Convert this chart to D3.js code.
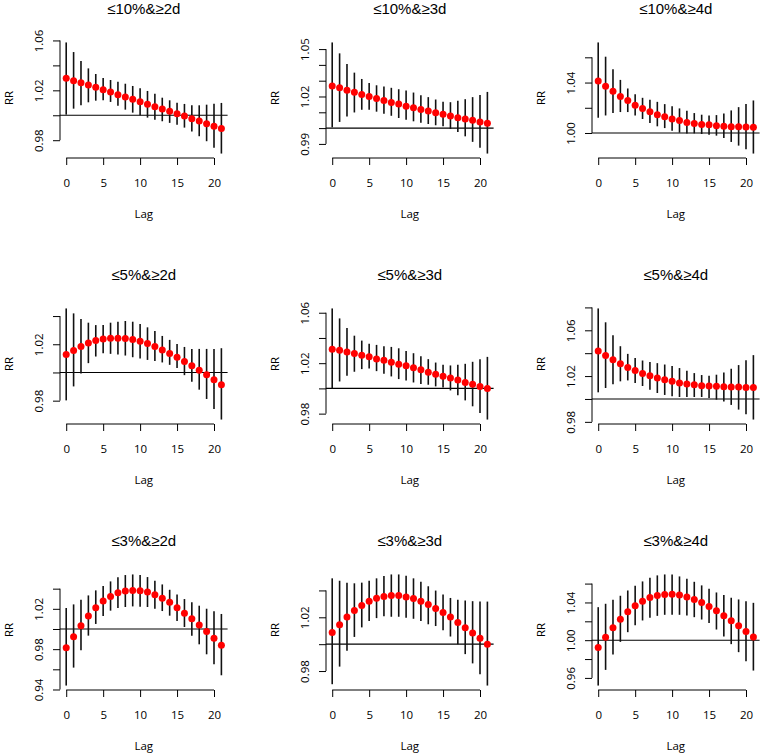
<!DOCTYPE html>
<html><head><meta charset="utf-8">
<script src="https://cdn.jsdelivr.net/npm/d3@7"></script>
<style>
body{margin:0;background:#fff}
svg{display:block}
text{font-family:"Open Sans",sans-serif;fill:#000}
text.title{font-family:"Liberation Sans",Arial,sans-serif}
</style>
</head><body>
<svg id="chart" width="760" height="753"></svg>
<script>
const lags = [0,1,2,3,4,5,6,7,8,9,10,11,12,13,14,15,16,17,18,19,20,21];
const xTicks = [0,5,10,15,20];
const titles = ["≤10%&≥2d","≤10%&≥3d","≤10%&≥4d","≤5%&≥2d","≤5%&≥3d","≤5%&≥4d","≤3%&≥2d","≤3%&≥3d","≤3%&≥4d"];

const est10_2 = [1.0296,1.0277,1.0261,1.0243,1.0224,1.0205,1.0187,1.0165,1.0147,1.0128,1.0109,1.0088,1.0069,1.0051,1.0032,1.0013,0.9995,0.9973,0.9955,0.9933,0.9912,0.9893];
const low10_2 = [1.0005,1.0053,1.0080,1.0104,1.0117,1.0120,1.0107,1.0077,1.0045,1.0021,1.0000,0.9981,0.9965,0.9952,0.9939,0.9923,0.9901,0.9869,0.9832,0.9792,0.9739,0.9693];
const high10_2 = [1.0584,1.0507,1.0435,1.0376,1.0331,1.0299,1.0283,1.0269,1.0253,1.0235,1.0216,1.0195,1.0173,1.0141,1.0120,1.0101,1.0091,1.0080,1.0080,1.0085,1.0093,1.0099];

const est10_3 = [1.0267,1.0255,1.0240,1.0227,1.0213,1.0200,1.0187,1.0175,1.0162,1.0152,1.0139,1.0129,1.0118,1.0108,1.0097,1.0087,1.0076,1.0066,1.0057,1.0049,1.0039,1.0030];
const low10_3 = [1.0005,1.0039,1.0074,1.0099,1.0116,1.0116,1.0104,1.0091,1.0078,1.0064,1.0053,1.0043,1.0034,1.0026,1.0018,1.0011,0.9995,0.9976,0.9948,0.9913,0.9875,0.9839];
const high10_3 = [1.0542,1.0473,1.0405,1.0351,1.0311,1.0286,1.0271,1.0263,1.0255,1.0246,1.0238,1.0225,1.0208,1.0196,1.0181,1.0166,1.0164,1.0173,1.0183,1.0196,1.0210,1.0229];

const est10_4 = [1.0413,1.0371,1.0332,1.0289,1.0258,1.0221,1.0195,1.0168,1.0145,1.0129,1.0111,1.0100,1.0084,1.0076,1.0068,1.0066,1.0058,1.0053,1.0050,1.0050,1.0047,1.0045];
const low10_4 = [1.0121,1.0139,1.0158,1.0166,1.0166,1.0139,1.0111,1.0079,1.0053,1.0039,1.0018,1.0003,0.9997,0.9997,0.9992,0.9987,0.9979,0.9961,0.9929,0.9900,0.9871,0.9837];
const high10_4 = [1.0718,1.0605,1.0505,1.0421,1.0353,1.0308,1.0279,1.0263,1.0247,1.0229,1.0213,1.0195,1.0176,1.0158,1.0145,1.0139,1.0142,1.0155,1.0179,1.0205,1.0229,1.0258];

const est5_2 = [1.0127,1.0155,1.0184,1.0209,1.0226,1.0238,1.0242,1.0242,1.0240,1.0233,1.0221,1.0205,1.0184,1.0160,1.0134,1.0108,1.0078,1.0047,1.0016,0.9984,0.9948,0.9913];
const low5_2 = [0.9802,0.9901,0.9993,1.0066,1.0113,1.0136,1.0132,1.0127,1.0120,1.0108,1.0099,1.0089,1.0082,1.0071,1.0054,1.0031,0.9981,0.9934,0.9878,0.9812,0.9741,0.9666];
const high5_2 = [1.0454,1.0419,1.0379,1.0353,1.0336,1.0336,1.0353,1.0360,1.0365,1.0360,1.0344,1.0320,1.0294,1.0259,1.0231,1.0202,1.0181,1.0167,1.0167,1.0167,1.0167,1.0172];

const est5_3 = [1.0311,1.0303,1.0289,1.0276,1.0263,1.0250,1.0234,1.0224,1.0208,1.0192,1.0179,1.0163,1.0147,1.0129,1.0113,1.0097,1.0082,1.0066,1.0047,1.0032,1.0016,1.0000];
const low5_3 = [1.0000,1.0055,1.0100,1.0132,1.0153,1.0158,1.0137,1.0116,1.0095,1.0074,1.0063,1.0047,1.0034,1.0029,1.0016,1.0008,0.9984,0.9945,0.9905,0.9858,0.9805,0.9753];
const high5_3 = [1.0634,1.0555,1.0479,1.0418,1.0379,1.0355,1.0345,1.0334,1.0329,1.0318,1.0297,1.0279,1.0255,1.0232,1.0205,1.0187,1.0182,1.0187,1.0195,1.0211,1.0232,1.0250];

const est5_4 = [1.0420,1.0380,1.0342,1.0307,1.0275,1.0249,1.0223,1.0203,1.0183,1.0168,1.0154,1.0139,1.0130,1.0125,1.0116,1.0113,1.0110,1.0107,1.0104,1.0104,1.0101,1.0101];
const low5_4 = [1.0058,1.0096,1.0128,1.0154,1.0162,1.0139,1.0113,1.0081,1.0052,1.0035,1.0023,1.0017,1.0017,1.0017,1.0017,1.0009,0.9994,0.9977,0.9948,0.9907,0.9867,0.9820];
const high5_4 = [1.0791,1.0670,1.0557,1.0461,1.0394,1.0357,1.0336,1.0322,1.0313,1.0301,1.0287,1.0270,1.0246,1.0226,1.0209,1.0203,1.0212,1.0232,1.0264,1.0296,1.0339,1.0383];

const est3_2 = [0.9815,0.9924,1.0033,1.0129,1.0211,1.0277,1.0323,1.0360,1.0376,1.0383,1.0380,1.0366,1.0340,1.0304,1.0264,1.0211,1.0155,1.0102,1.0040,0.9974,0.9908,0.9838];
const low3_2 = [0.9439,0.9617,0.9789,0.9934,1.0050,1.0129,1.0182,1.0208,1.0218,1.0224,1.0221,1.0218,1.0201,1.0178,1.0132,1.0079,1.0020,0.9934,0.9848,0.9749,0.9650,0.9541];
const high3_2 = [1.0208,1.0244,1.0290,1.0333,1.0383,1.0426,1.0472,1.0512,1.0535,1.0541,1.0535,1.0515,1.0479,1.0442,1.0389,1.0343,1.0297,1.0264,1.0231,1.0201,1.0175,1.0149];

const est3_3 = [1.0086,1.0145,1.0202,1.0251,1.0288,1.0320,1.0342,1.0354,1.0362,1.0362,1.0352,1.0340,1.0320,1.0295,1.0266,1.0236,1.0202,1.0162,1.0123,1.0084,1.0044,1.0000];
const low3_3 = [0.9702,0.9833,0.9951,1.0054,1.0125,1.0172,1.0194,1.0207,1.0204,1.0204,1.0197,1.0189,1.0172,1.0148,1.0135,1.0103,1.0057,1.0000,0.9926,0.9857,0.9776,0.9692];
const high3_3 = [1.0490,1.0472,1.0458,1.0453,1.0458,1.0472,1.0490,1.0507,1.0519,1.0519,1.0509,1.0490,1.0465,1.0431,1.0399,1.0369,1.0344,1.0330,1.0325,1.0320,1.0317,1.0317];

const est3_4 = [0.9922,1.0032,1.0131,1.0223,1.0301,1.0365,1.0414,1.0453,1.0474,1.0485,1.0488,1.0478,1.0457,1.0432,1.0400,1.0358,1.0312,1.0258,1.0205,1.0152,1.0092,1.0035];
const low3_4 = [0.9519,0.9685,0.9848,0.9982,1.0085,1.0159,1.0209,1.0237,1.0258,1.0269,1.0269,1.0269,1.0262,1.0244,1.0219,1.0181,1.0113,1.0039,0.9958,0.9873,0.9777,0.9678];
const high3_4 = [1.0350,1.0386,1.0428,1.0471,1.0527,1.0577,1.0623,1.0662,1.0687,1.0697,1.0697,1.0676,1.0651,1.0619,1.0581,1.0545,1.0506,1.0478,1.0450,1.0432,1.0414,1.0396];

const yTicks = [
  [0.98,1.00,1.02,1.04,1.06],
  [0.99,1.00,1.01,1.02,1.03,1.04,1.05],
  [1.00,1.02,1.04,1.06],
  [0.98,1.00,1.02,1.04],
  [0.98,1.00,1.02,1.04,1.06],
  [0.98,1.00,1.02,1.04,1.06,1.08],
  [0.94,0.96,0.98,1.00,1.02,1.04],
  [0.98,1.00,1.02,1.04],
  [0.96,0.98,1.00,1.02,1.04,1.06]
];
const yLabels = [
  [0.98,1.02,1.06],
  [0.99,1.02,1.05],
  [1.00,1.04],
  [0.98,1.02],
  [0.98,1.02,1.06],
  [0.98,1.02,1.06],
  [0.94,0.98,1.02],
  [0.98,1.02],
  [0.96,1.00,1.04]
];

const estimates = [est10_2,est10_3,est10_4,est5_2,est5_3,est5_4,est3_2,est3_3,est3_4];
const lowers = [low10_2,low10_3,low10_4,low5_2,low5_3,low5_4,low3_2,low3_3,low3_4];
const uppers = [high10_2,high10_3,high10_4,high5_2,high5_3,high5_4,high3_2,high3_3,high3_4];

const svg = d3.select("#chart");
const colLeft = [60, 326, 592];
const rowTop = [38, 304, 570];
const pw = 167.6, ph = 120;

titles.forEach((title, i) => {
  const r = Math.floor(i / 3), c = i % 3;
  const L = colLeft[c], T = rowTop[r];
  const est = estimates[i], lo = lowers[i], hi = uppers[i];
  const xExt = (d3.max(lags) - d3.min(lags)) * 0.04;
  const x = d3.scaleLinear().domain([d3.min(lags) - xExt, d3.max(lags) + xExt]).range([L, L + pw]);
  const mn = d3.min(lo), mx = d3.max(hi), ext = (mx - mn) * 0.04;
  const y = d3.scaleLinear().domain([mn - ext, mx + ext]).range([T + ph, T]);
  const g = svg.append("g");

  // reference line at RR = 1
  g.append("line")
    .attr("x1", L).attr("x2", L + pw)
    .attr("y1", y(1)).attr("y2", y(1))
    .attr("stroke", "#000").attr("stroke-width", 1.1);

  // confidence interval bars
  g.selectAll("line.ci").data(lags).enter().append("line")
    .attr("class", "ci")
    .attr("x1", d => x(d)).attr("x2", d => x(d))
    .attr("y1", (d, k) => y(lo[k])).attr("y2", (d, k) => y(hi[k]))
    .attr("stroke", "#111").attr("stroke-width", 1.6);

  // points
  g.selectAll("circle").data(lags).enter().append("circle")
    .attr("cx", d => x(d)).attr("cy", (d, k) => y(est[k]))
    .attr("r", 3.5).attr("fill", "#ff0000");

  // y axis
  const labs = yLabels[i].map(v => v.toFixed(2));
  const yAxis = d3.axisLeft(y).tickValues(yTicks[i]).tickSize(7)
    .tickFormat(d => labs.includes(d.toFixed(2)) ? d.toFixed(2) : "");
  const ya = g.append("g").attr("transform", `translate(${L},0)`).call(yAxis);
  ya.attr("font-family", null).attr("font-size", null);
  ya.select(".domain").remove();
  ya.selectAll(".tick line").attr("stroke", "#000").attr("stroke-width", 1);
  ya.selectAll(".tick text")
    .attr("transform", "rotate(-90)")
    .attr("x", 0).attr("y", -17).attr("dy", null)
    .attr("text-anchor", "middle")
    .style("font-size", "11.5px");
  const yt = yTicks[i];
  ya.append("line")
    .attr("x1", 0).attr("x2", 0)
    .attr("y1", y(yt[0])).attr("y2", y(yt[yt.length - 1]))
    .attr("stroke", "#000").attr("stroke-width", 1);

  // x axis
  const xAxis = d3.axisBottom(x).tickValues(xTicks).tickSize(7).tickFormat(d3.format("d"));
  const xa = g.append("g").attr("transform", `translate(0,${T + ph})`).call(xAxis);
  xa.attr("font-family", null).attr("font-size", null);
  xa.select(".domain").remove();
  xa.selectAll(".tick line").attr("stroke", "#000").attr("stroke-width", 1);
  xa.selectAll(".tick text").attr("y", 29).attr("dy", null).style("font-size", "11.5px");
  xa.append("line")
    .attr("x1", x(xTicks[0])).attr("x2", x(xTicks[xTicks.length - 1]))
    .attr("y1", 0).attr("y2", 0)
    .attr("stroke", "#000").attr("stroke-width", 1);

  // title
  g.append("text")
    .attr("class", "title")
    .attr("x", L + pw / 2).attr("y", T - 24)
    .attr("text-anchor", "middle")
    .style("font-size", "15px")
    .text(title);

  // axis labels
  g.append("text")
    .attr("x", L + pw / 2).attr("y", T + ph + 60)
    .attr("text-anchor", "middle")
    .style("font-size", "11.5px")
    .text("Lag");
  g.append("text")
    .attr("transform", `translate(${L - 47},${T + ph / 2}) rotate(-90)`)
    .attr("text-anchor", "middle")
    .style("font-size", "11.5px")
    .text("RR");
});
</script>
</body></html>
